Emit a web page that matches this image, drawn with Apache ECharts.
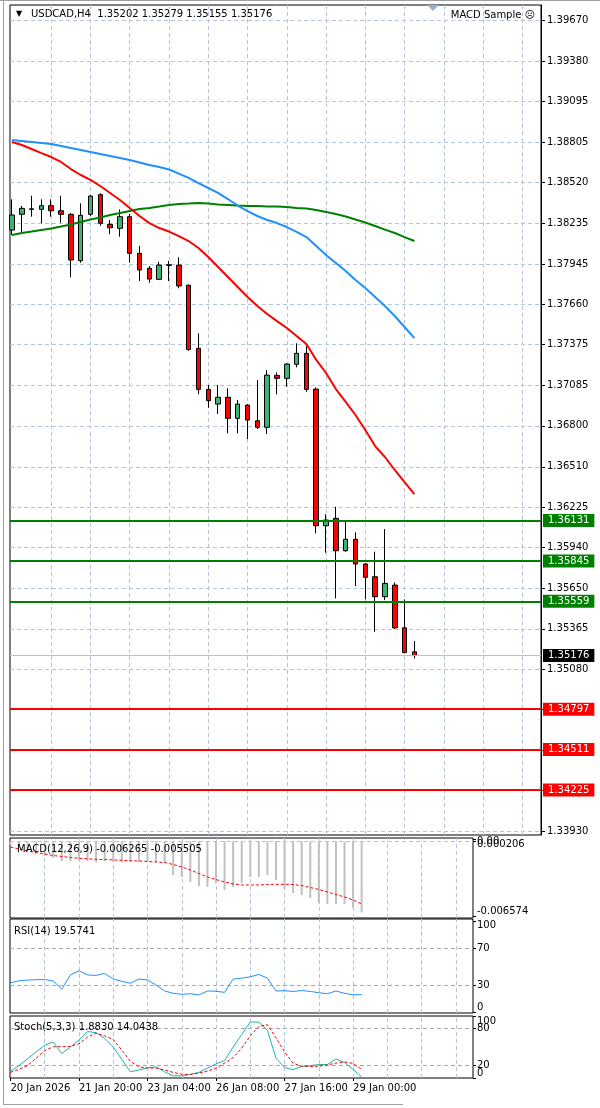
<!DOCTYPE html>
<html><head><meta charset="utf-8">
<script src="https://cdn.jsdelivr.net/npm/echarts@6/dist/echarts.min.js"></script>
<style>html,body{margin:0;padding:0;background:#fff}#c{width:600px;height:1108px}</style>
</head><body><div id="c"></div>
<script>
// ---- data ----
const opens  = [1.38185,1.38296,1.38331,1.38331,1.38357,1.38321,1.38296,1.37968,1.38296,1.38435,1.38225,1.38197,1.38279,1.38020,1.37914,1.37836,1.37935,1.37937,1.37794,1.37348,1.37058,1.36954,1.37002,1.36853,1.36947,1.36836,1.36790,1.37157,1.37136,1.37235,1.37313,1.37060,1.36094,1.36146,1.35917,1.35998,1.35823,1.35733,1.35592,1.35674,1.35372,1.35202];
const highs  = [1.38402,1.38355,1.38427,1.38402,1.38402,1.38427,1.38305,1.38374,1.38432,1.38444,1.38256,1.38331,1.38298,1.38072,1.37930,1.37959,1.37966,1.37992,1.37801,1.37454,1.37089,1.37089,1.37065,1.36983,1.36954,1.37124,1.37195,1.37179,1.37244,1.37384,1.37365,1.37072,1.36176,1.36228,1.36129,1.36047,1.35830,1.35910,1.36070,1.35693,1.35573,1.35279];
const lows   = [1.38150,1.38162,1.38279,1.38232,1.38279,1.38237,1.37850,1.37954,1.38284,1.38215,1.38155,1.38138,1.37954,1.37824,1.37812,1.37831,1.37824,1.37773,1.37331,1.37023,1.36928,1.36884,1.36747,1.36747,1.36707,1.36778,1.36742,1.37023,1.37077,1.37214,1.37041,1.36040,1.35903,1.35580,1.35910,1.35667,1.35573,1.35344,1.35568,1.35363,1.35191,1.35155];
const closes = [1.38291,1.38338,1.38335,1.38357,1.38321,1.38296,1.37973,1.38289,1.38425,1.38232,1.38201,1.38279,1.38020,1.37902,1.37838,1.37937,1.37939,1.37789,1.37340,1.37058,1.36978,1.37002,1.36853,1.36954,1.36841,1.36790,1.37159,1.37136,1.37237,1.37313,1.37058,1.36094,1.36134,1.35917,1.35998,1.35823,1.35729,1.35592,1.35686,1.35372,1.35198,1.35176];

const maRed   = [1.38807,1.38786,1.38758,1.38729,1.38701,1.38666,1.38616,1.38574,1.38539,1.38496,1.38447,1.38397,1.38341,1.38284,1.38234,1.38199,1.38174,1.38142,1.38107,1.38058,1.37994,1.37923,1.37853,1.37782,1.37711,1.37647,1.37591,1.37541,1.37492,1.37435,1.37379,1.37266,1.37174,1.37060,1.36969,1.36877,1.36771,1.36657,1.36580,1.36488,1.36403,1.36318];
const maBlue  = [1.38821,1.38814,1.38807,1.38800,1.38793,1.38779,1.38765,1.38751,1.38737,1.38722,1.38708,1.38694,1.38680,1.38662,1.38645,1.38630,1.38613,1.38584,1.38553,1.38517,1.38482,1.38447,1.38404,1.38358,1.38319,1.38284,1.38256,1.38234,1.38206,1.38171,1.38135,1.38072,1.38008,1.37952,1.37895,1.37831,1.37775,1.37711,1.37647,1.37577,1.37499,1.37421];
const maGreen = [1.38150,1.38164,1.38174,1.38185,1.38196,1.38210,1.38224,1.38241,1.38259,1.38273,1.38291,1.38305,1.38319,1.38333,1.38341,1.38351,1.38362,1.38369,1.38372,1.38376,1.38372,1.38365,1.38362,1.38358,1.38355,1.38355,1.38351,1.38351,1.38348,1.38341,1.38337,1.38326,1.38312,1.38298,1.38280,1.38259,1.38238,1.38213,1.38188,1.38164,1.38135,1.38107];

const priceTicks = [1.39670,1.39380,1.39095,1.38805,1.38520,1.38235,1.37945,1.37660,1.37375,1.37085,1.36800,1.36510,1.36225,1.35940,1.35650,1.35365,1.35080,1.34795,1.34505,1.34220,1.33930];
const resistanceLevels = [1.36131,1.35845,1.35559];
const supportLevels    = [1.34797,1.34511,1.34225];
const bidPrice = 1.35176;

const macdMain   = [-0.000322,-0.000586,-0.000851,-0.001027,-0.001291,-0.001467,-0.001731,-0.001731,-0.001643,-0.001731,-0.001819,-0.001731,-0.001819,-0.001819,-0.001819,-0.001819,-0.001819,-0.001819,-0.001907,-0.002964,-0.003140,-0.003580,-0.003932,-0.004020,-0.003668,-0.004285,-0.004020,-0.003668,-0.003140,-0.003140,-0.002964,-0.003404,-0.004197,-0.004549,-0.004725,-0.004989,-0.005429,-0.005517,-0.005517,-0.005517,-0.005869,-0.006265];
const macdSignal = [-0.000498,-0.000675,-0.000851,-0.000983,-0.001115,-0.001247,-0.001335,-0.001423,-0.001493,-0.001537,-0.001581,-0.001608,-0.001643,-0.001669,-0.001705,-0.001731,-0.001775,-0.001819,-0.001863,-0.002039,-0.002259,-0.002524,-0.002832,-0.003140,-0.003360,-0.003580,-0.003756,-0.003844,-0.003844,-0.003844,-0.003800,-0.003783,-0.003783,-0.003800,-0.003888,-0.004064,-0.004241,-0.004461,-0.004681,-0.004901,-0.005165,-0.005505];
const macdScaleEnds = [-0.006574,0.000206];
const macdScaleMid  = [0];

const rsiValues = [32.5,34.5,35.4,35.8,36.0,34.4,25.6,41.0,45.6,41.0,40.5,42.7,36.5,34.0,32.0,36.5,35.5,30.0,23.5,21.0,19.9,20.5,19.2,23.5,23.2,22.0,36.5,37.5,39.0,41.5,37.5,23.5,23.8,23.0,24.0,23.0,21.6,20.5,23.5,21.0,19.3,19.5741];
const rsiLevels = [70,30];
const rsiScale  = [0,30,70,100];

const stochMain   = [10.5,20,31,42,53,58,39.5,50,61,75,73,64,50,30,10,13,16.5,18,10,3.5,3.5,6,9,16,22.8,28,50,70,90.5,90,77,32,17,13.5,18.5,20,21.7,21.7,30.5,25,14,1.8830];
const stochSignal = [9,14,20,32,44,50.5,50.5,51,55,66,72.5,68,62,45,27,18,16,16,13,9,6,5.5,8,11,16,24,33,48,68,83,86,65,42,24,19,18.5,19,21,24,26,23.5,14.0438];
const stochLevels = [80,20];
const stochScaleEnds = [0,100];
const stochScaleMid  = [20,80];

const timeLabels    = ['20 Jan 2026','21 Jan 20:00','23 Jan 04:00','26 Jan 08:00','27 Jan 16:00','29 Jan 00:00'];
const timeLabelBars = [0,8,16,24,32,40];
const gridStepBars  = 4;
const totalSlots    = 54;

// ---- build ----
const FONT = 'DejaVu Sans';
const idx = closes.map((_, i) => i);
const pairs = arr => arr.map((v, i) => [i, v]);
const candleData = idx.map(i => [i, opens[i], closes[i], lows[i], highs[i]]);
const vGrid = [];
for (let b = gridStepBars; b < totalSlots; b += gridStepBars) vGrid.push(b);
const gridLineStyle = {color: '#B4C6DE', type: [4, 3], width: 1};
const levelLineStyle = {color: '#A8A8A8', type: [4, 3], width: 1};
const vLines = () => vGrid.map(b => ({xAxis: b}));

function subY(grid, min, max, values, fmt, alignEnds) {
  const lbl = {customValues: values, margin: 4, fontSize: 10, color: '#000', fontFamily: FONT,
      showMinLabel: true, showMaxLabel: true, formatter: fmt};
  if (alignEnds) { lbl.verticalAlignMinLabel = 'bottom'; lbl.verticalAlignMaxLabel = 'top'; }
  return {type: 'value', gridIndex: grid, position: 'right', min: min, max: max,
    axisLine: {show: false, onZero: false}, splitLine: {show: false},
    axisTick: {show: true, customValues: values, length: 3, lineStyle: {color: '#000'}},
    axisLabel: lbl};
}
const macdFmt = v => v === 0 ? '0.00' : v.toFixed(6);

const option = {
  animation: false,
  textStyle: {fontFamily: FONT},
  grid: [
    {left: 10, top: 5, width: 531, height: 830, show: true, borderColor: '#000', borderWidth: 1, backgroundColor: '#fff'},
    {left: 10, top: 838, width: 463, height: 80, show: true, borderColor: '#000', borderWidth: 1},
    {left: 10, top: 919, width: 463, height: 94, show: true, borderColor: '#000', borderWidth: 1},
    {left: 10, top: 1016, width: 463, height: 62, show: true, borderColor: '#000', borderWidth: 1}
  ],
  xAxis: [
    {type: 'value', gridIndex: 0, min: -0.2, max: 53.9, show: false, axisLine: {onZero: false}},
    {type: 'value', gridIndex: 1, min: -0.05, max: 54, show: false, axisLine: {onZero: false}},
    {type: 'value', gridIndex: 2, min: -0.05, max: 54, show: false, axisLine: {onZero: false}},
    {type: 'value', gridIndex: 3, min: -0.05, max: 54,
      axisLine: {show: false, onZero: false}, splitLine: {show: false},
      axisTick: {show: true, customValues: timeLabelBars, length: 3, lineStyle: {color: '#000'}},
      axisLabel: {customValues: timeLabelBars, align: 'left', margin: 5, fontSize: 10, color: '#000', fontFamily: FONT,
        showMinLabel: true, formatter: v => timeLabels[timeLabelBars.indexOf(v)]}}
  ],
  yAxis: [
    {type: 'value', gridIndex: 0, position: 'right', min: 1.33907, max: 1.39776,
      axisLine: {show: true, onZero: false, lineStyle: {color: '#000'}}, splitLine: {show: false},
      axisTick: {show: true, customValues: priceTicks, length: 4, lineStyle: {color: '#000'}},
      axisLabel: {customValues: priceTicks, margin: 6, fontSize: 10, color: '#000', fontFamily: FONT,
        showMinLabel: true, showMaxLabel: true, formatter: v => v.toFixed(5)}},
    subY(1, -0.00675, 0.000294, macdScaleEnds, macdFmt, true),
    subY(2, -0.5, 102, rsiScale, v => String(v), true),
    subY(3, 0, 100, stochScaleEnds, v => String(v), true),
    subY(1, -0.00675, 0.000294, macdScaleMid, macdFmt, false),
    subY(3, 0, 100, stochScaleMid, v => String(v), false)
  ],
  series: [
    // main grid lines
    {type: 'line', xAxisIndex: 0, yAxisIndex: 0, data: [], z: 1,
      markLine: {silent: true, symbol: 'none', precision: 6, z: 1, label: {show: false}, lineStyle: gridLineStyle,
        data: priceTicks.map(v => ({yAxis: v})).concat(vLines())}},
    // candles
    {type: 'candlestick', xAxisIndex: 0, yAxisIndex: 0, data: candleData, barWidth: 5, z: 3,
      itemStyle: {color: '#3CB371', color0: '#FF0000', borderColor: '#000', borderColor0: '#000', borderWidth: 1}},
    // moving averages
    {type: 'line', xAxisIndex: 0, yAxisIndex: 0, data: pairs(maGreen), showSymbol: false, z: 4, lineStyle: {color: '#008000', width: 2}},
    {type: 'line', xAxisIndex: 0, yAxisIndex: 0, data: pairs(maBlue), showSymbol: false, z: 4, lineStyle: {color: '#1E90FF', width: 2}},
    {type: 'line', xAxisIndex: 0, yAxisIndex: 0, data: pairs(maRed), showSymbol: false, z: 4, lineStyle: {color: '#FF0000', width: 2}},
    // price levels
    {type: 'line', xAxisIndex: 0, yAxisIndex: 0, data: [], z: 5,
      markLine: {silent: true, symbol: 'none', precision: 6, z: 6,
        data: [{yAxis: bidPrice, lineStyle: {color: '#C0C0C0', type: 'solid', width: 1},
                 label: {backgroundColor: '#000'}}]
          .concat(resistanceLevels.map(v => ({yAxis: v, lineStyle: {color: '#008000', type: 'solid', width: 2},
                 label: {backgroundColor: '#008000'}})))
          .concat(supportLevels.map(v => ({yAxis: v, lineStyle: {color: '#FF0000', type: 'solid', width: 2},
                 label: {backgroundColor: '#FF0000'}}))),
        label: {show: true, position: 'end', distance: 2, color: '#fff', fontSize: 10, fontFamily: FONT,
          padding: [1, 5, 1, 5], lineHeight: 11, formatter: p => Number(p.value).toFixed(5)}}},
    // MACD
    {type: 'line', xAxisIndex: 1, yAxisIndex: 1, data: [], z: 1,
      markLine: {silent: true, symbol: 'none', precision: 6, z: 1, label: {show: false}, lineStyle: gridLineStyle,
        data: [{yAxis: 0}].concat(vLines())}},
    {type: 'bar', xAxisIndex: 1, yAxisIndex: 1, data: pairs(macdMain), barWidth: 2, z: 2, itemStyle: {color: '#C0C0C0'}},
    {type: 'line', xAxisIndex: 1, yAxisIndex: 1, data: pairs(macdSignal), showSymbol: false, z: 3, lineStyle: {color: '#FF0000', width: 1, type: [3, 2]}},
    // RSI
    {type: 'line', xAxisIndex: 2, yAxisIndex: 2, data: pairs(rsiValues), showSymbol: false, z: 3, lineStyle: {color: '#1E90FF', width: 1},
      markLine: {silent: true, symbol: 'none', precision: 4, z: 1, label: {show: false},
        data: rsiLevels.map(v => ({yAxis: v, lineStyle: levelLineStyle})).concat(vGrid.map(b => ({xAxis: b, lineStyle: gridLineStyle})))}},
    // Stochastic
    {type: 'line', xAxisIndex: 3, yAxisIndex: 3, data: pairs(stochMain), showSymbol: false, z: 3, lineStyle: {color: '#20B2AA', width: 1},
      markLine: {silent: true, symbol: 'none', precision: 4, z: 1, label: {show: false},
        data: stochLevels.map(v => ({yAxis: v, lineStyle: levelLineStyle})).concat(vGrid.map(b => ({xAxis: b, lineStyle: gridLineStyle})))}},
    {type: 'line', xAxisIndex: 3, yAxisIndex: 3, data: pairs(stochSignal), showSymbol: false, z: 3, lineStyle: {color: '#FF0000', width: 1, type: [3, 2]}}
  ],
  graphic: [
    {type: 'rect', shape: {x: 0, y: 0, width: 600, height: 1}, style: {fill: '#A0A0A0'}, silent: true},
    {type: 'rect', shape: {x: 3, y: 0, width: 1, height: 1105}, style: {fill: '#A0A0A0'}, silent: true},
    {type: 'rect', shape: {x: 3, y: 1104, width: 400, height: 1}, style: {fill: '#A0A0A0'}, silent: true},
    {type: 'polygon', shape: {points: [[427, 5], [439, 5], [433, 11]]}, style: {fill: '#98B0D0'}, silent: true, z: 100},
    {type: 'text', x: 16, y: 14, style: {text: '▼', fontSize: 8, fill: '#000', verticalAlign: 'middle', fontFamily: FONT}, z: 100},
    {type: 'text', x: 31, y: 14, style: {text: 'USDCAD,H4  ' + [opens[41], highs[41], lows[41], closes[41]].map(v => v.toFixed(5)).join(' '),
      fontSize: 10, fill: '#000', verticalAlign: 'middle', fontFamily: FONT}, z: 100},
    {type: 'text', x: 535, y: 15, style: {text: 'MACD Sample ☹', fontSize: 10, fill: '#000', align: 'right', verticalAlign: 'middle', fontFamily: FONT}, z: 100},
    {type: 'text', x: 17, y: 849, style: {text: 'MACD(12,26,9) ' + macdMain[41].toFixed(6) + ' ' + macdSignal[41].toFixed(6),
      fontSize: 10, fill: '#000', verticalAlign: 'middle', fontFamily: FONT}, z: 100},
    {type: 'text', x: 14, y: 931, style: {text: 'RSI(14) ' + rsiValues[41].toFixed(4), fontSize: 10, fill: '#000', verticalAlign: 'middle', fontFamily: FONT}, z: 100},
    {type: 'text', x: 14, y: 1027, style: {text: 'Stoch(5,3,3) ' + stochMain[41].toFixed(4) + ' ' + stochSignal[41].toFixed(4),
      fontSize: 10, fill: '#000', verticalAlign: 'middle', fontFamily: FONT}, z: 100}
  ]
};
const chart = echarts.init(document.getElementById('c'), null, {renderer: 'canvas'});
chart.setOption(option);
</script></body></html>
